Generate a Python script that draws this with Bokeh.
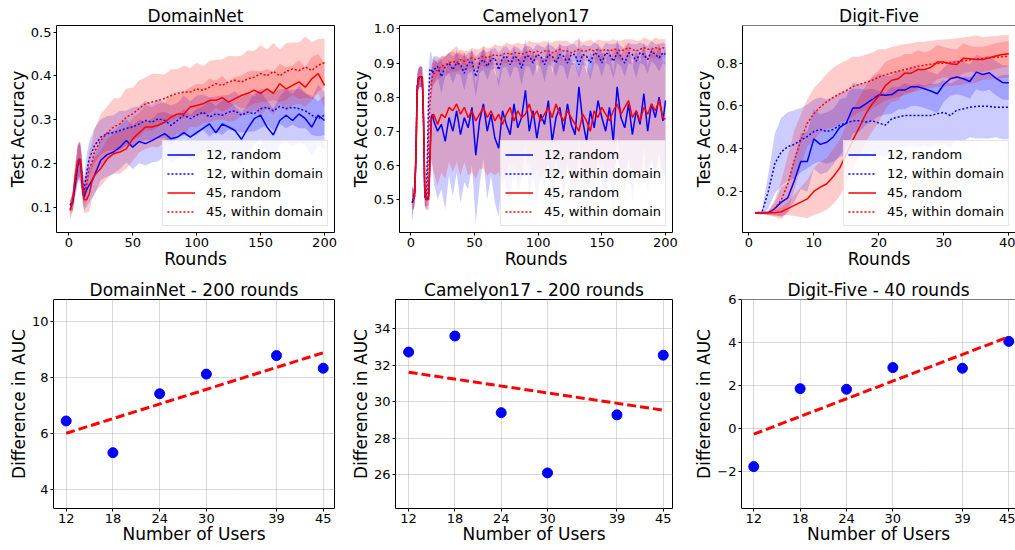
import numpy as np
from bokeh.plotting import figure
from bokeh.layouts import row, column
from bokeh.models import FixedTicker, Range1d, Span
from bokeh.embed import file_html
from bokeh.resources import INLINE

FONT = "DejaVu Sans"

# ---------------- DomainNet (test accuracy vs rounds) ----------------
dn_rounds = [1, 3, 5, 7, 8, 9, 10, 11, 12, 14, 16, 18, 20] + list(range(25, 201, 5))
dn_12_random = [0.105, 0.11, 0.15, 0.195, 0.21, 0.206, 0.176, 0.134, 0.123, 0.14, 0.15, 0.16, 0.172,
                0.207, 0.22, 0.226, 0.237, 0.252, 0.237, 0.25, 0.245, 0.252, 0.26,
                0.268, 0.256, 0.26, 0.27, 0.26, 0.27, 0.28, 0.29, 0.27, 0.29,
                0.283, 0.275, 0.255, 0.28, 0.302, 0.31, 0.283, 0.265, 0.298, 0.31,
                0.298, 0.313, 0.302, 0.283, 0.31, 0.298]
dn_12_within = [0.105, 0.11, 0.16, 0.2, 0.205, 0.2, 0.18, 0.15, 0.138, 0.18, 0.21, 0.225, 0.24,
                0.26, 0.268, 0.27, 0.275, 0.28, 0.283, 0.29, 0.298, 0.294, 0.302,
                0.298, 0.287, 0.298, 0.31, 0.302, 0.31, 0.317, 0.306, 0.313, 0.31,
                0.317, 0.32, 0.31, 0.317, 0.313, 0.325, 0.328, 0.32, 0.33, 0.325,
                0.328, 0.325, 0.32, 0.31, 0.302, 0.31]
dn_45_random = [0.092, 0.115, 0.17, 0.205, 0.208, 0.21, 0.184, 0.138, 0.117, 0.117, 0.13, 0.157, 0.172,
                0.188, 0.21, 0.222, 0.226, 0.233, 0.256, 0.27, 0.283, 0.283, 0.287,
                0.294, 0.306, 0.313, 0.313, 0.329, 0.332, 0.336, 0.344, 0.344, 0.35,
                0.34, 0.348, 0.355, 0.36, 0.367, 0.36, 0.37, 0.36, 0.382, 0.37,
                0.378, 0.386, 0.374, 0.393, 0.405, 0.378]
dn_45_within = [0.095, 0.11, 0.16, 0.2, 0.205, 0.2, 0.18, 0.15, 0.13, 0.15, 0.19, 0.2, 0.226,
                0.252, 0.27, 0.283, 0.29, 0.306, 0.313, 0.325, 0.336, 0.34, 0.344,
                0.348, 0.355, 0.36, 0.363, 0.363, 0.37, 0.367, 0.374, 0.382, 0.378,
                0.386, 0.39, 0.386, 0.393, 0.397, 0.405, 0.40, 0.41, 0.40, 0.41,
                0.416, 0.412, 0.42, 0.412, 0.424, 0.43]
dn_std_12_random = [0.01, 0.02, 0.03, 0.04, 0.04, 0.04, 0.04, 0.03, 0.03, 0.04, 0.04, 0.04, 0.045,
                    0.045, 0.05, 0.05, 0.05, 0.05, 0.05, 0.05, 0.05, 0.05, 0.055,
                    0.05, 0.055, 0.05, 0.055, 0.05, 0.055, 0.05, 0.055, 0.06, 0.055,
                    0.06, 0.055, 0.06, 0.055, 0.06, 0.055, 0.06, 0.06, 0.055, 0.06,
                    0.06, 0.065, 0.06, 0.065, 0.07, 0.065]
dn_std_12_within = [0.01, 0.02, 0.03, 0.04, 0.04, 0.04, 0.04, 0.03, 0.03, 0.04, 0.04, 0.04, 0.04,
                    0.04, 0.04, 0.04, 0.045, 0.04, 0.045, 0.04, 0.045, 0.04, 0.045,
                    0.04, 0.045, 0.04, 0.045, 0.04, 0.045, 0.04, 0.045, 0.04, 0.045,
                    0.04, 0.045, 0.04, 0.045, 0.04, 0.045, 0.04, 0.045, 0.04, 0.045,
                    0.04, 0.045, 0.04, 0.045, 0.04, 0.045]
dn_std_45_random = [0.02, 0.02, 0.03, 0.04, 0.04, 0.04, 0.04, 0.03, 0.03, 0.03, 0.04, 0.04, 0.04,
                    0.04, 0.045, 0.045, 0.05, 0.045, 0.05, 0.045, 0.05, 0.045, 0.05,
                    0.045, 0.05, 0.045, 0.05, 0.045, 0.05, 0.045, 0.05, 0.045, 0.05,
                    0.045, 0.05, 0.045, 0.05, 0.045, 0.05, 0.045, 0.05, 0.045, 0.05,
                    0.045, 0.05, 0.045, 0.05, 0.045, 0.05]
dn_std_45_within = [0.02, 0.02, 0.03, 0.04, 0.045, 0.045, 0.04, 0.03, 0.03, 0.035, 0.04, 0.045, 0.05,
                    0.06, 0.06, 0.065, 0.06, 0.065, 0.06, 0.065, 0.06, 0.065, 0.06,
                    0.055, 0.06, 0.055, 0.06, 0.055, 0.06, 0.055, 0.06, 0.055, 0.06,
                    0.06, 0.055, 0.06, 0.065, 0.06, 0.065, 0.06, 0.065, 0.06, 0.065,
                    0.06, 0.065, 0.07, 0.065, 0.06, 0.055]

# ---------------- Camelyon17 ----------------
cam_rounds = list(range(1, 18)) + list(range(18, 199, 3)) + [200]
cam_12_random = [0.49, 0.50, 0.52, 0.63, 0.83, 0.855, 0.86, 0.86, 0.855, 0.72, 0.51, 0.50, 0.50, 0.51, 0.63, 0.74, 0.75,
                 0.73, 0.70, 0.72, 0.67, 0.74, 0.70, 0.76, 0.69, 0.74, 0.71,
                 0.77, 0.63, 0.73, 0.78, 0.70, 0.75, 0.68, 0.65, 0.76, 0.72,
                 0.69, 0.78, 0.71, 0.74, 0.82, 0.70, 0.76, 0.68, 0.75, 0.72,
                 0.79, 0.67, 0.74, 0.77, 0.70, 0.78, 0.72, 0.69, 0.83, 0.73,
                 0.67, 0.76, 0.71, 0.79, 0.74, 0.70, 0.77, 0.67, 0.83, 0.74,
                 0.71, 0.78, 0.69, 0.76, 0.72, 0.81, 0.70, 0.78, 0.74, 0.80,
                 0.73, 0.79]
cam_12_within = [0.49, 0.50, 0.52, 0.63, 0.83, 0.855, 0.86, 0.86, 0.855, 0.72, 0.51, 0.50, 0.63, 0.80, 0.88, 0.883, 0.87,
                 0.88, 0.89, 0.86, 0.89, 0.90, 0.88, 0.90, 0.895, 0.87, 0.90,
                 0.905, 0.86, 0.90, 0.91, 0.89, 0.91, 0.915, 0.88, 0.915, 0.92,
                 0.895, 0.92, 0.915, 0.885, 0.92, 0.92, 0.90, 0.925, 0.92, 0.895,
                 0.925, 0.92, 0.90, 0.925, 0.92, 0.90, 0.925, 0.925, 0.895, 0.925,
                 0.92, 0.90, 0.93, 0.925, 0.90, 0.93, 0.925, 0.905, 0.93, 0.92,
                 0.90, 0.93, 0.925, 0.905, 0.93, 0.925, 0.91, 0.935, 0.925, 0.915,
                 0.93, 0.925]
cam_45_random = [0.50, 0.50, 0.51, 0.62, 0.82, 0.85, 0.86, 0.86, 0.86, 0.74, 0.51, 0.50, 0.50, 0.50, 0.60, 0.73, 0.745,
                 0.75, 0.72, 0.75, 0.74, 0.77, 0.76, 0.78, 0.75, 0.77, 0.74,
                 0.76, 0.73, 0.75, 0.77, 0.74, 0.76, 0.73, 0.75, 0.72, 0.75,
                 0.77, 0.73, 0.76, 0.74, 0.75, 0.78, 0.74, 0.76, 0.73, 0.75,
                 0.77, 0.74, 0.78, 0.75, 0.73, 0.76, 0.74, 0.72, 0.70, 0.75,
                 0.73, 0.70, 0.76, 0.74, 0.77, 0.75, 0.73, 0.76, 0.78, 0.75,
                 0.77, 0.79, 0.74, 0.76, 0.73, 0.77, 0.75, 0.78, 0.76, 0.79,
                 0.74, 0.735]
cam_45_within = [0.50, 0.50, 0.51, 0.62, 0.82, 0.85, 0.86, 0.86, 0.86, 0.74, 0.51, 0.50, 0.52, 0.68, 0.78, 0.84, 0.864,
                 0.868, 0.88, 0.89, 0.895, 0.90, 0.905, 0.90, 0.91, 0.905, 0.91,
                 0.915, 0.91, 0.915, 0.92, 0.915, 0.92, 0.925, 0.92, 0.925, 0.93,
                 0.925, 0.93, 0.93, 0.925, 0.93, 0.935, 0.93, 0.935, 0.93, 0.935,
                 0.935, 0.93, 0.935, 0.94, 0.935, 0.935, 0.93, 0.935, 0.94, 0.935,
                 0.935, 0.94, 0.935, 0.94, 0.935, 0.94, 0.935, 0.94, 0.94, 0.935,
                 0.94, 0.945, 0.94, 0.935, 0.94, 0.945, 0.94, 0.94, 0.945, 0.94,
                 0.945, 0.94]
cam_std_12_random = [0.05, 0.03, 0.03, 0.05, 0.04, 0.03, 0.03, 0.03, 0.03, 0.06, 0.03, 0.02, 0.02, 0.03, 0.08, 0.12, 0.15,
                     0.18, 0.20, 0.19, 0.20, 0.17, 0.19, 0.18, 0.20, 0.19, 0.18,
                     0.17, 0.20, 0.19, 0.16, 0.20, 0.18, 0.19, 0.20, 0.17, 0.19,
                     0.20, 0.17, 0.19, 0.18, 0.15, 0.20, 0.18, 0.19, 0.17, 0.19,
                     0.18, 0.20, 0.17, 0.19, 0.20, 0.17, 0.19, 0.20, 0.15, 0.18,
                     0.20, 0.17, 0.19, 0.16, 0.19, 0.20, 0.17, 0.20, 0.14, 0.18,
                     0.19, 0.16, 0.20, 0.17, 0.19, 0.15, 0.19, 0.16, 0.18, 0.15,
                     0.19, 0.16]
cam_std_12_within = [0.05, 0.03, 0.03, 0.05, 0.04, 0.03, 0.03, 0.03, 0.03, 0.06, 0.03, 0.02, 0.08, 0.08, 0.05, 0.05, 0.04,
                     0.04, 0.03, 0.05, 0.03, 0.03, 0.04, 0.03, 0.03, 0.05, 0.03,
                     0.03, 0.06, 0.03, 0.03, 0.04, 0.03, 0.03, 0.05, 0.03, 0.03,
                     0.04, 0.03, 0.03, 0.05, 0.03, 0.03, 0.04, 0.03, 0.03, 0.05,
                     0.03, 0.03, 0.04, 0.03, 0.03, 0.05, 0.03, 0.03, 0.04, 0.03,
                     0.03, 0.05, 0.03, 0.03, 0.04, 0.03, 0.03, 0.05, 0.03, 0.03,
                     0.04, 0.03, 0.03, 0.05, 0.03, 0.03, 0.04, 0.03, 0.03, 0.04,
                     0.03, 0.03]
cam_std_45_random = [0.03, 0.03, 0.03, 0.05, 0.04, 0.03, 0.03, 0.03, 0.03, 0.06, 0.03, 0.03, 0.03, 0.03, 0.08, 0.12, 0.15,
                     0.17, 0.18, 0.17, 0.18, 0.16, 0.18, 0.17, 0.18, 0.16, 0.17,
                     0.18, 0.17, 0.16, 0.18, 0.17, 0.18, 0.16, 0.17, 0.18, 0.17,
                     0.16, 0.18, 0.17, 0.18, 0.17, 0.16, 0.18, 0.17, 0.18, 0.16,
                     0.17, 0.18, 0.16, 0.17, 0.18, 0.17, 0.16, 0.18, 0.17, 0.18,
                     0.16, 0.17, 0.18, 0.17, 0.16, 0.18, 0.17, 0.18, 0.16, 0.17,
                     0.18, 0.17, 0.16, 0.18, 0.17, 0.18, 0.16, 0.17, 0.18, 0.17,
                     0.16, 0.17]
cam_std_45_within = [0.03, 0.03, 0.03, 0.05, 0.04, 0.03, 0.03, 0.03, 0.03, 0.06, 0.03, 0.03, 0.05, 0.08, 0.06, 0.05, 0.04,
                     0.03, 0.03, 0.03, 0.025, 0.03, 0.03, 0.025, 0.03, 0.03, 0.025,
                     0.03, 0.03, 0.025, 0.03, 0.03, 0.025, 0.03, 0.03, 0.025, 0.03,
                     0.03, 0.025, 0.03, 0.03, 0.025, 0.03, 0.03, 0.025, 0.03, 0.03,
                     0.025, 0.03, 0.03, 0.025, 0.03, 0.03, 0.025, 0.03, 0.03, 0.025,
                     0.03, 0.03, 0.025, 0.03, 0.03, 0.025, 0.03, 0.03, 0.025, 0.03,
                     0.03, 0.025, 0.03, 0.03, 0.025, 0.03, 0.03, 0.025, 0.03, 0.03,
                     0.025, 0.03]

# ---------------- Digit-Five ----------------
df_rounds = list(range(1, 41))
df_12_random = [0.10, 0.10, 0.10, 0.12, 0.15, 0.17, 0.25, 0.34, 0.34, 0.446,
                0.42, 0.43, 0.455, 0.50, 0.52, 0.59, 0.59, 0.61, 0.63, 0.652,
                0.65, 0.653, 0.674, 0.674, 0.69, 0.69, 0.68, 0.67, 0.657, 0.70,
                0.727, 0.735, 0.727, 0.714, 0.758, 0.747, 0.755, 0.73, 0.71, 0.708]
df_12_within = [0.10, 0.10, 0.20, 0.33, 0.385, 0.41, 0.42, 0.44, 0.457, 0.48,
                0.49, 0.48, 0.49, 0.51, 0.52, 0.53, 0.53, 0.525, 0.53, 0.52,
                0.51, 0.54, 0.548, 0.555, 0.555, 0.555, 0.555, 0.555, 0.563, 0.57,
                0.555, 0.58, 0.586, 0.594, 0.598, 0.598, 0.598, 0.594, 0.594, 0.594]
df_45_random = [0.10, 0.10, 0.10, 0.10, 0.105, 0.12, 0.135, 0.15, 0.165, 0.20,
                0.22, 0.236, 0.27, 0.31, 0.375, 0.44, 0.50, 0.563, 0.61, 0.645,
                0.695, 0.72, 0.727, 0.753, 0.753, 0.77, 0.77, 0.78, 0.805, 0.805,
                0.797, 0.794, 0.823, 0.82, 0.817, 0.817, 0.825, 0.833, 0.84, 0.844]
df_45_within = [0.10, 0.10, 0.10, 0.12, 0.16, 0.236, 0.345, 0.44, 0.52, 0.563,
                0.595, 0.62, 0.64, 0.657, 0.672, 0.69, 0.70, 0.71, 0.72, 0.735,
                0.745, 0.755, 0.762, 0.77, 0.778, 0.785, 0.79, 0.795, 0.798, 0.80,
                0.803, 0.806, 0.81, 0.815, 0.82, 0.822, 0.825, 0.828, 0.83, 0.832]
df_std_12_random = [0.005, 0.005, 0.01, 0.03, 0.07, 0.07, 0.1, 0.13, 0.14, 0.14,
                    0.14, 0.14, 0.13, 0.13, 0.12, 0.12, 0.11, 0.10, 0.10, 0.10,
                    0.09, 0.09, 0.09, 0.09, 0.09, 0.09, 0.09, 0.09, 0.09, 0.08,
                    0.08, 0.08, 0.08, 0.08, 0.08, 0.08, 0.08, 0.08, 0.08, 0.08]
df_std_12_within = [0.005, 0.01, 0.08, 0.14, 0.16, 0.16, 0.16, 0.15, 0.15, 0.15,
                    0.15, 0.15, 0.15, 0.15, 0.15, 0.15, 0.15, 0.15, 0.15, 0.15,
                    0.15, 0.15, 0.14, 0.15, 0.14, 0.15, 0.14, 0.15, 0.14, 0.15,
                    0.15, 0.14, 0.15, 0.14, 0.15, 0.15, 0.15, 0.14, 0.15, 0.15]
df_std_45_random = [0.005, 0.005, 0.01, 0.015, 0.02, 0.03, 0.05, 0.07, 0.09, 0.11,
                    0.12, 0.12, 0.13, 0.13, 0.14, 0.14, 0.14, 0.13, 0.13, 0.12,
                    0.11, 0.10, 0.10, 0.09, 0.09, 0.09, 0.08, 0.08, 0.08, 0.07,
                    0.07, 0.07, 0.07, 0.06, 0.06, 0.06, 0.06, 0.06, 0.06, 0.06]
df_std_45_within = [0.005, 0.005, 0.01, 0.04, 0.09, 0.13, 0.14, 0.12, 0.11, 0.12,
                    0.12, 0.13, 0.14, 0.14, 0.14, 0.14, 0.13, 0.13, 0.13, 0.13,
                    0.12, 0.12, 0.12, 0.12, 0.115, 0.115, 0.11, 0.11, 0.11, 0.11,
                    0.11, 0.11, 0.11, 0.11, 0.11, 0.10, 0.10, 0.10, 0.10, 0.10]

# ---------------- AUC differences vs number of users ----------------
users = [12, 18, 24, 30, 39, 45]
auc_domainnet = [6.45, 5.32, 7.42, 8.12, 8.78, 8.33]
auc_camelyon = [32.72, 33.6, 29.4, 26.1, 29.28, 32.55]
auc_digitfive = [-1.78, 1.85, 1.82, 2.83, 2.8, 4.05]

legend_labels = ["12, random", "12, within domain", "45, random", "45, within domain"]


def base_fig(title, width, height, bl, br, bt, bb, xr, yr, xticks, yticks, xlabel, ylabel,
             xlab_standoff, open_right=False):
    p = figure(width=width, height=height, x_range=Range1d(*xr), y_range=Range1d(*yr),
               output_backend="svg", toolbar_location=None,
               min_border_left=bl, min_border_right=br, min_border_top=bt, min_border_bottom=bb)
    p.title.text = title
    p.title.text_font = FONT
    p.title.text_font_size = "17px"
    p.title.text_font_style = "normal"
    p.title.text_color = "black"
    p.title.align = "center"
    p.title.standoff = 0
    p.background_fill_color = "white"
    p.border_fill_color = "white"
    p.xaxis.ticker = FixedTicker(ticks=xticks)
    p.yaxis.ticker = FixedTicker(ticks=yticks)
    p.xaxis.axis_label = xlabel
    p.yaxis.axis_label = ylabel
    for ax in (p.xaxis[0], p.yaxis[0]):
        ax.axis_line_color = "black" if open_right else None
        ax.axis_line_width = 1
        ax.major_tick_line_color = "black"
        ax.major_tick_in = 0
        ax.major_tick_out = 3
        ax.minor_tick_line_color = None
        ax.major_label_text_font = FONT
        ax.major_label_text_font_size = "13px"
        ax.major_label_text_color = "black"
        ax.major_label_standoff = 2
        ax.axis_label_text_font = FONT
        ax.axis_label_text_font_size = "17px"
        ax.axis_label_text_font_style = "normal"
        ax.axis_label_text_color = "black"
        ax.axis_label_standoff = 0
    p.xaxis[0].axis_label_standoff = xlab_standoff
    if open_right:
        # the right spine lies beyond the page edge: draw only left, bottom and top spines
        p.outline_line_color = None
        p.add_layout(Span(location=yr[1], dimension="width", line_color="black", line_width=1))
    else:
        p.outline_line_color = "black"
        p.outline_line_alpha = 1.0
        p.outline_line_width = 1
    p.xgrid.visible = False
    p.ygrid.visible = False
    return p


def top_panel(title, width, bl, br, xr, yr, xticks, yticks, rounds, means, stds,
              ylabels=None, open_right=False):
    p = base_fig(title, width, 275, bl, br, 25, 43, xr, yr, xticks, yticks,
                 "Rounds", "Test Accuracy", -1, open_right)
    if ylabels:
        p.yaxis[0].major_label_overrides = ylabels
    colors = ["blue", "blue", "red", "red"]
    dashes = ["solid", "2 2", "solid", "2 2"]
    for m, s, c in zip(means, stds, colors):
        m = np.array(m)
        s = np.array(s)
        p.varea(x=rounds, y1=m - s, y2=m + s, fill_color=c, fill_alpha=0.2)
    for m, c, d, lab in zip(means, colors, dashes, legend_labels):
        p.line(rounds, m, line_color=c, line_width=1.5, line_dash=d, legend_label=lab)
    lg = p.legend[0]
    lg.location = "bottom_right"
    lg.margin = 6
    lg.padding = 4
    lg.spacing = 0
    lg.label_height = 19
    lg.glyph_height = 19
    lg.glyph_width = 28
    lg.label_standoff = 11
    lg.label_text_font = FONT
    lg.label_text_font_size = "13px"
    lg.label_text_color = "black"
    lg.border_line_color = "#cccccc"
    lg.border_line_width = 1
    lg.background_fill_color = "white"
    lg.background_fill_alpha = 0.8
    return p


def bottom_panel(title, width, bl, br, xr, yr, yticks, values, overrides=None, open_right=False):
    p = base_fig(title, width, 275, bl, br, 24, 42, xr, yr, users, yticks,
                 "Number of Users", "Difference in AUC", -2, open_right)
    for g in (p.xgrid[0], p.ygrid[0]):
        g.visible = True
        g.grid_line_color = "#b0b0b0"
        g.grid_line_dash = "1 1"
        g.grid_line_width = 1
    if overrides:
        p.yaxis[0].major_label_overrides = overrides
    p.scatter(users, values, size=10, fill_color="blue", line_color="blue", marker="circle")
    coef = np.polyfit(users, values, 1)
    xs = [users[0], users[-1]]
    p.line(xs, list(np.polyval(coef, xs)), line_color="red", line_width=3, line_dash="9 4")
    return p


f1 = top_panel("DomainNet", 340, 56, 6, (-9.6, 207.8), (0.042, 0.515),
               [0, 50, 100, 150, 200], [0.1, 0.2, 0.3, 0.4, 0.5], dn_rounds,
               [dn_12_random, dn_12_within, dn_45_random, dn_45_within],
               [dn_std_12_random, dn_std_12_within, dn_std_45_random, dn_std_45_within])
f2 = top_panel("Camelyon17", 340, 59, 8, (-8.9, 205.5), (0.403, 1.01),
               [0, 50, 100, 150, 200], [0.5, 0.6, 0.7, 0.8, 0.9, 1.0], cam_rounds,
               [cam_12_random, cam_12_within, cam_45_random, cam_45_within],
               [cam_std_12_random, cam_std_12_within, cam_std_45_random, cam_std_45_within],
               ylabels={1: "1.0"})
f3 = top_panel("Digit-Five", 335, 62, 0, (-0.97, 41.03), (0.008, 0.976),
               [0, 10, 20, 30, 40], [0.2, 0.4, 0.6, 0.8], df_rounds,
               [df_12_random, df_12_within, df_45_random, df_45_within],
               [df_std_12_random, df_std_12_within, df_std_45_random, df_std_45_within],
               open_right=True)

f4 = bottom_panel("DomainNet - 200 rounds", 340, 53, 6, (10.37, 46.45), (3.33, 10.78),
                  [4, 6, 8, 10], auc_domainnet)
f5 = bottom_panel("Camelyon17 - 200 rounds", 340, 55, 8, (10.3, 46.2), (24.15, 35.6),
                  [26, 28, 30, 32, 34], auc_camelyon)
f6 = bottom_panel("Digit-Five - 40 rounds", 335, 61, 0, (10.41, 45.87), (-3.73, 6.0),
                  [-2, 0, 2, 4, 6], auc_digitfive, overrides={-2: "\u22122"}, open_right=True)

layout = column(row(f1, f2, f3), row(f4, f5, f6))

with open("out.html", "w") as fh:
    fh.write(file_html(layout, INLINE))
